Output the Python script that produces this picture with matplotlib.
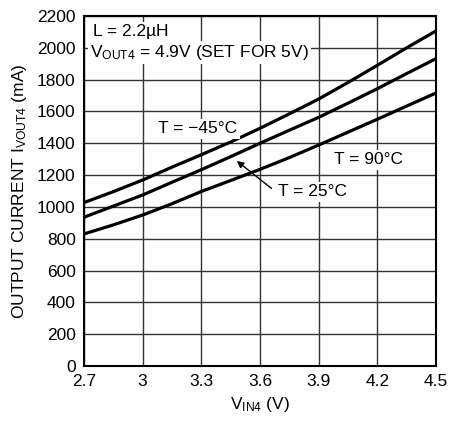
import matplotlib
matplotlib.use('Agg')
import matplotlib.pyplot as plt

FONT = ['Liberation Sans Narrow', 'Liberation Sans', 'DejaVu Sans']
plt.rcParams['font.family'] = FONT
plt.rcParams['mathtext.fontset'] = 'custom'
plt.rcParams['mathtext.rm'] = 'Liberation Sans'
plt.rcParams['mathtext.it'] = 'Liberation Sans'

# mA vs V
VIN = [2.7, 2.85, 3.0, 3.15, 3.3, 3.45, 3.6, 3.75, 3.9, 4.05, 4.2, 4.35, 4.5]
I_M45 = [1027, 1096, 1169, 1250, 1328, 1408, 1494, 1585, 1678, 1782, 1890, 2000, 2106]
I_25 = [935, 1005, 1075, 1155, 1234, 1316, 1400, 1482, 1563, 1652, 1743, 1838, 1932]
I_90 = [830, 887, 949, 1020, 1097, 1166, 1236, 1310, 1389, 1470, 1551, 1634, 1716]

X_TICKS = [2.7, 3, 3.3, 3.6, 3.9, 4.2, 4.5]
X_LABELS = ["2.7", "3", "3.3", "3.6", "3.9", "4.2", "4.5"]
Y_TICKS = list(range(0, 2201, 200))

fig = plt.figure(figsize=(4.49, 4.23), dpi=100)
ax = fig.add_axes([84 / 449, 1 - 366 / 423, (436 - 84) / 449, (366 - 16) / 423])

for ys in (I_M45, I_25, I_90):
    ax.plot(VIN, ys, color='black', lw=2.3, solid_capstyle='butt', zorder=3)

ax.set_xlim(2.7, 4.5)
ax.set_ylim(0, 2200)
ax.set_xticks(X_TICKS)
ax.set_xticklabels(X_LABELS)
ax.set_yticks(Y_TICKS)
ax.grid(True, color='#333333', lw=1.0)
ax.tick_params(length=0, labelsize=12.5, pad=6)
for s in ax.spines.values():
    s.set_linewidth(1.5)

ax.set_xlabel(r"V$_{\mathrm{IN4}}$ (V)", fontsize=12.5, labelpad=4)
ax.set_ylabel(r"OUTPUT CURRENT I$_{\mathrm{VOUT4}}$ (mA)", fontsize=12.5, labelpad=6)

bbox = dict(facecolor='white', edgecolor='none', pad=1.5)
ax.text(2.745, 2100, "L = 2.2µH", fontsize=12.5, va='center', ha='left', bbox=bbox, zorder=4)
ax.text(2.73, 1970, r"V$_{\mathrm{OUT4}}$ = 4.9V (SET FOR 5V)", fontsize=12.5,
        va='center', ha='left', bbox=bbox, zorder=4)
ax.text(3.08, 1490, "T = −45°C", fontsize=12.5, va='center', ha='left', bbox=bbox, zorder=4)
ax.text(3.98, 1295, "T = 90°C", fontsize=12.5, va='center', ha='left', bbox=bbox, zorder=4)
ax.text(3.69, 1094, "T = 25°C", fontsize=12.5, va='center', ha='left', bbox=bbox, zorder=4)
ax.annotate("", xy=(3.47, 1300), xytext=(3.67, 1105),
            arrowprops=dict(arrowstyle='-|>', color='black', lw=1.0, mutation_scale=10),
            zorder=4)

plt.savefig("out.png", dpi=100)
plt.close()
